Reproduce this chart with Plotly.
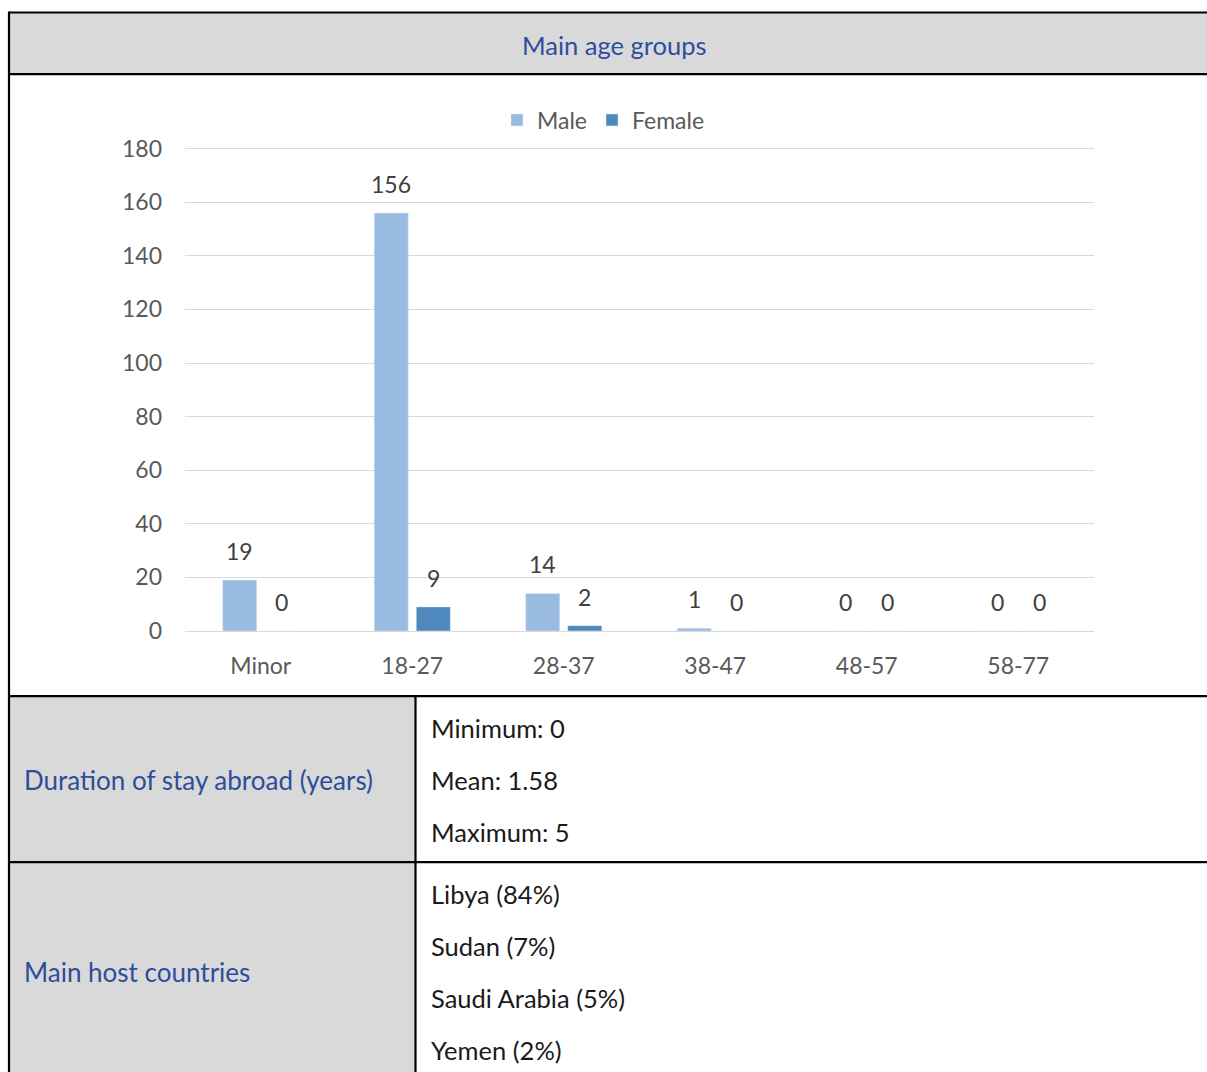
import plotly.graph_objects as go

# Age-group counts by sex
age_groups = ["Minor", "18-27", "28-37", "38-47", "48-57", "58-77"]
male = [19, 156, 14, 1, 0, 0]
female = [0, 9, 2, 0, 0, 0]
y_ticks = [0, 20, 40, 60, 80, 100, 120, 140, 160, 180]

# Summary rows below the chart
header_title = "Main age groups"
duration_label = "Duration of stay abroad (years)"
duration_lines = ["Minimum: 0", "Mean: 1.58", "Maximum: 5"]
countries_label = "Main host countries"
countries_lines = ["Libya (84%)", "Sudan (7%)", "Saudi Arabia (5%)", "Yemen (2%)"]

W, H = 1207, 1072
Y_MAX = 180.6  # a little headroom so the 180 gridline is drawn
PL, PR, PB = 185, 1094, 631
PT = PB - (PB - 149) * Y_MAX / 180  # plot area in pixels

MALE_C = "#9ABBE0"
FEMALE_C = "#4F88BC"
BLUE_TXT = "#2C4E9B"
GRAY_BG = "#D9D9D9"
FONT_CHART = "Lato, Open Sans, sans-serif"
FONT_TABLE = "Lato, Noto Sans, sans-serif"


def px(x):
    return (x - PL) / (PR - PL)


def py(y):
    return (PB - y) / (PB - PT)


fig = go.Figure()
fig.add_trace(go.Bar(name="Male", x=age_groups, y=male, marker_color=MALE_C))
fig.add_trace(go.Bar(name="Female", x=age_groups, y=female, marker_color=FEMALE_C))

# value labels above each bar
annotations = []
for vals, dx in ((male, -21), (female, 21)):
    for cat, v in zip(age_groups, vals):
        annotations.append(dict(
            x=cat, y=v, xref="x", yref="y", text=str(v), showarrow=False,
            xshift=dx, yshift=13, yanchor="bottom",
            font=dict(family=FONT_CHART, size=23, color="#404040"),
        ))

# table frame: grey cells and black rules
shapes = []


def rect(x0, y0, x1, y1, fill):
    shapes.append(dict(type="rect", xref="paper", yref="paper", layer="below",
                       x0=px(x0), x1=px(x1), y0=py(y0), y1=py(y1),
                       fillcolor=fill, line=dict(width=0)))


def hline(y, x0=9, x1=W + 5):
    shapes.append(dict(type="line", xref="paper", yref="paper",
                       x0=px(x0), x1=px(x1), y0=py(y), y1=py(y),
                       line=dict(color="black", width=2.2)))


def vline(x, y0, y1):
    shapes.append(dict(type="line", xref="paper", yref="paper",
                       x0=px(x), x1=px(x), y0=py(y0), y1=py(y1),
                       line=dict(color="black", width=2.2)))


rect(9, 13, W + 5, 74, GRAY_BG)
rect(9, 696, 415, H + 5, GRAY_BG)
hline(13)
hline(74.5)
hline(696)
hline(862)
vline(9, 12, H + 5)
vline(415.5, 696, H + 5)


def cell_text(x, y, text, color, size, anchor="left"):
    annotations.append(dict(
        x=px(x), y=py(y), xref="paper", yref="paper", text=text, showarrow=False,
        xanchor=anchor, yanchor="middle",
        font=dict(family=FONT_TABLE, size=size, color=color),
    ))


cell_text(614, 45, header_title, BLUE_TXT, 25.5, anchor="center")
cell_text(22, 780, duration_label, BLUE_TXT, 26)
cell_text(22, 972, countries_label, BLUE_TXT, 26)
for i, t in enumerate(duration_lines):
    cell_text(429, 728 + 52 * i, t, "#1A1A1A", 25.5)
for i, t in enumerate(countries_lines):
    cell_text(429, 894 + 52 * i, t, "#1A1A1A", 25.5)

fig.update_layout(
    width=W, height=H,
    margin=dict(l=PL, r=W - PR, t=PT, b=H - PB, autoexpand=False),
    paper_bgcolor="white", plot_bgcolor="white",
    barmode="group", bargap=0.445, bargroupgap=0.19,
    font=dict(family=FONT_CHART, size=23, color="#595959"),
    showlegend=True,
    legend=dict(orientation="h", xref="container", x=0.5, xanchor="center",
                yref="container", y=1 - 120 / H, yanchor="middle",
                font=dict(family=FONT_CHART, size=23, color="#595959"),
                itemwidth=30, traceorder="normal"),
    xaxis=dict(showgrid=False, showline=False, ticks="", ticklabelstandoff=19,
               tickfont=dict(size=23, color="#595959")),
    yaxis=dict(range=[0, Y_MAX], tickvals=y_ticks, showgrid=True,
               gridcolor="#D9D9D9", gridwidth=1.3, zeroline=True,
               zerolinecolor="#D9D9D9", zerolinewidth=1.3, showline=False,
               ticks="", ticklabelstandoff=22,
               tickfont=dict(size=23, color="#595959")),
    shapes=shapes,
    annotations=annotations,
)

fig.write_html("out.html")
